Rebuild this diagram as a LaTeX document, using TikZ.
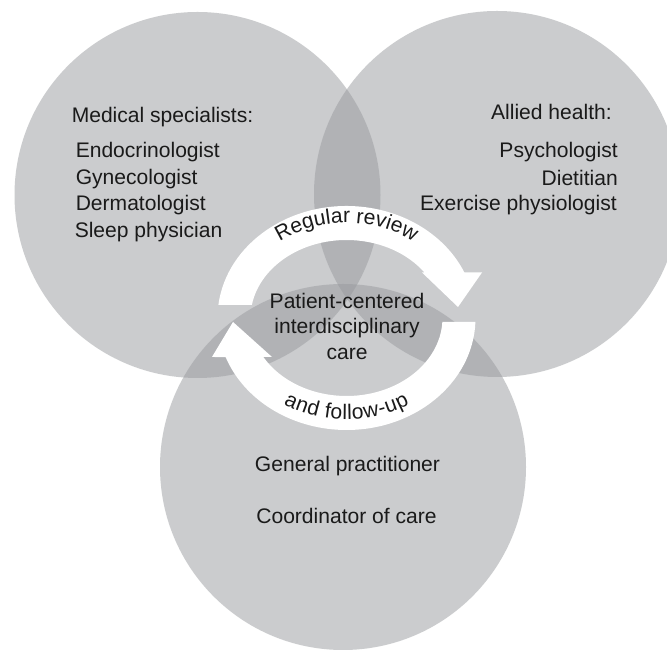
\documentclass[tikz,border=0pt]{standalone}
\usepackage{fontspec}
\setmainfont{Liberation Sans}
\usetikzlibrary{decorations.text}

\definecolor{venngray}{RGB}{152,154,158}
\definecolor{ink}{RGB}{26,26,26}
\newcommand{\vennfont}{\fontsize{15.8}{19}\selectfont}

\begin{document}
\begin{tikzpicture}[x=0.75pt, y=0.75pt,
  venn/.style={fill=venngray, fill opacity=0.5},
  band/.style={fill=white},
  lbl/.style={inner sep=0pt, text=ink, font=\vennfont},
  leftlbl/.style={lbl, anchor=base west},
  rightlbl/.style={lbl, anchor=base east},
  midlbl/.style={lbl, anchor=base},
  arclbl/.style={decorate, decoration={text along path, text align=center, text color=ink}}]

 \fill[white] (0,0) rectangle (667,652);
 \path[use as bounding box, clip] (0,0) rectangle (667,652);

	% Cercles
 \coordinate (med) at (197.5,457);
 \coordinate (allied) at (497,458);
 \coordinate (gp) at (343,185);
 \fill[venn] (med) circle[radius=183];
 \fill[venn] (allied) circle[radius=183];
 \fill[venn] (gp) circle[radius=183];

	% Fleches
 \coordinate (ring) at (346.5,334);
 \fill[band] (ring) ++(173.3:129 and 112) arc[start angle=173.3, end angle=24, x radius=129, y radius=112]
   -- ([shift={(135.5,45.5)}]ring) -- ([shift={(111.5,11)}]ring) -- ([shift={(75.5,45.5)}]ring)
   -- ([shift={(35.7:96 and 78)}]ring) arc[start angle=35.7, end angle=170.4, x radius=96, y radius=78] -- cycle;
 \fill[band] (ring) ++(-2:129 and 112) arc[start angle=-2, end angle=-159.6, x radius=129, y radius=112]
   -- ([shift={(-134.5,-39)}]ring) -- ([shift={(-113.5,-4)}]ring) -- ([shift={(-74.5,-39)}]ring)
   -- ([shift={(-150:96 and 78)}]ring) arc[start angle=-150, end angle=-2.9, x radius=96, y radius=78] -- cycle;

 \path[arclbl, decoration={text={|\vennfont|Regular review}, raise=0pt}]
   (ring) ++(165:112.5 and 95) arc[start angle=165, end angle=15, x radius=112.5, y radius=95];
 \path[arclbl, decoration={text={|\vennfont|and follow-up}, raise=-5pt}]
   (ring) ++(195:112.5 and 95) arc[start angle=195, end angle=345, x radius=112.5, y radius=95];

	% Textes
 \node[leftlbl] (medhead) at (71.5,529) {Medical specialists:};
 \node[leftlbl] (endo) at (75.5,494.5) {Endocrinologist};
 \node[leftlbl] (gyn) at (75.5,467) {Gynecologist};
 \node[leftlbl] (derm) at (75.5,441.5) {Dermatologist};
 \node[leftlbl] (sleep) at (74.5,414.5) {Sleep physician};

 \node[rightlbl] (alliedhead) at (612,532.5) {Allied health:};
 \node[rightlbl] (psych) at (618,494) {Psychologist};
 \node[rightlbl] (diet) at (618,466.5) {Dietitian};
 \node[rightlbl] (exer) at (617,441) {Exercise physiologist};

 \node[midlbl] (patient) at (347,343.5) {Patient-centered};
 \node[midlbl] (interdisc) at (347,318.5) {interdisciplinary};
 \node[midlbl] (care) at (347,292.5) {care};

 \node[midlbl] (gen) at (347.5,180) {General practitioner};
 \node[midlbl] (coord) at (346.5,128) {Coordinator of care};

\end{tikzpicture}
\end{document}
